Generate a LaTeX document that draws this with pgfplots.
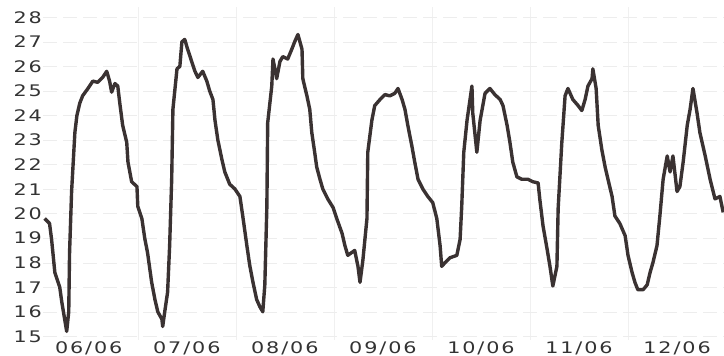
\documentclass[border=0pt]{standalone}
\usepackage{pgfplots}
\usepackage{pgfplotstable}
\usepackage{fontspec}
\pgfplotsset{compat=1.18}
\newfontfamily\tickfont[FakeStretch=1.3,LetterSpace=12]{DejaVu Sans}
\definecolor{linec}{RGB}{58,50,50}
\pgfplotstableread{
h v
1.2 19.8
2.4 19.6
2.9 18.95
3.7 17.6
4.9 17.0
5.4 16.4
6.1 15.7
6.6 15.2
7.1 16.0
7.3 18.4
7.8 20.9
8.6 23.3
9.1 24.0
9.8 24.5
10.5 24.8
11.8 25.1
13.0 25.4
14.2 25.35
15.4 25.55
16.4 25.8
17.1 25.4
17.6 24.95
18.4 25.3
19.1 25.2
19.6 24.5
20.3 23.6
21.3 22.9
21.6 22.1
22.5 21.3
23.8 21.1
24.0 20.3
25.0 19.8
25.7 19.0
26.4 18.4
27.4 17.2
28.2 16.5
28.9 16.0
29.9 15.7
30.1 15.4
30.6 16.0
31.3 16.8
31.8 18.7
32.3 21.4
32.6 24.25
33.6 25.9
34.3 26.0
34.8 27.0
35.5 27.1
36.2 26.7
37.2 26.2
38.0 25.8
38.7 25.55
39.9 25.8
40.9 25.4
41.6 25.0
42.4 24.65
42.9 23.8
43.6 23.0
44.6 22.2
45.3 21.7
46.5 21.2
47.8 21.0
49.0 20.7
49.7 19.9
50.7 18.7
51.4 17.9
52.2 17.2
53.1 16.5
53.9 16.2
54.6 16.0
55.1 17.1
55.6 20.3
55.8 23.7
56.8 25.2
57.1 26.3
58.0 25.5
58.8 26.2
59.5 26.4
60.7 26.3
61.7 26.7
62.4 27.0
63.2 27.3
64.2 26.7
64.4 25.5
65.4 24.8
66.1 24.25
66.6 23.3
67.3 22.5
67.8 21.9
68.6 21.4
69.3 21.0
70.5 20.6
71.8 20.25
72.7 19.8
74.0 19.2
74.7 18.7
75.4 18.3
77.1 18.5
77.9 17.85
78.4 17.2
79.1 18.1
80.1 19.8
80.3 22.5
81.3 23.8
82.0 24.4
83.3 24.65
84.5 24.85
85.7 24.8
86.9 24.9
87.7 25.1
88.7 24.65
89.4 24.25
90.1 23.6
91.1 22.75
91.8 22.1
92.6 21.4
93.8 21.0
95.0 20.7
96.2 20.45
97.2 19.8
98.0 18.7
98.4 17.85
99.2 18.0
100.4 18.2
102.1 18.3
102.9 18.95
103.3 20.3
103.8 22.5
104.6 23.8
105.8 25.2
106.0 24.1
107.0 22.5
107.8 23.8
109.0 24.9
110.2 25.1
111.4 24.85
112.7 24.65
113.4 24.4
114.4 23.6
115.1 22.9
115.8 22.1
116.8 21.5
118.0 21.4
119.5 21.4
120.7 21.3
122.0 21.25
122.4 20.6
123.2 19.5
124.2 18.55
124.9 17.85
125.6 17.05
126.6 17.85
126.9 20.2
127.8 22.9
128.6 24.8
129.3 25.1
130.5 24.65
131.8 24.4
132.7 24.2
133.5 24.65
134.2 25.2
135.2 25.5
135.4 25.9
136.2 25.1
136.7 23.6
137.6 22.6
138.4 21.9
139.1 21.4
140.1 20.7
140.8 19.9
142.0 19.6
143.3 19.1
144.0 18.3
145.0 17.6
145.7 17.2
146.4 16.9
147.7 16.9
148.7 17.1
149.4 17.6
150.1 18.0
151.1 18.7
151.8 19.9
152.6 21.4
153.6 22.35
154.3 21.7
155.0 22.35
156.0 20.9
156.7 21.1
157.5 22.1
158.5 23.6
159.2 24.25
159.9 25.1
160.9 24.1
161.6 23.3
162.9 22.35
164.1 21.4
165.3 20.6
166.5 20.7
167.3 20.05
}\temps
\begin{document}
\begin{tikzpicture}
\begin{axis}[
  scale only axis,
  width=681bp, height=332.5bp,
  xmin=0.8, xmax=167.5,
  ymin=14.85, ymax=28.4,
  axis line style={draw=none},
  major tick length=0pt, minor tick length=0pt,
  xtick={12,36,60,84,108,132,156},
  xticklabels={06/06,07/06,08/06,09/06,10/06,11/06,12/06},
  minor xtick={24,48,72,96,120,144},
  ytick={15,16,...,28},
  ymajorgrids, xminorgrids,
  major grid style={black!7, dash pattern=on 14bp off 6bp},
  minor grid style={black!6},
  tick label style={font=\tickfont\fontsize{16}{16}\selectfont, text=black!80},
  /pgf/number format/assume math mode=true,
  xticklabel style={inner sep=0pt, yshift=-1.5bp},
  yticklabel style={inner sep=0pt, xshift=-1bp},
  clip=false,
]
\addplot[linec, line width=3.4bp, line join=round] table[x=h, y=v] {\temps};
\end{axis}
\pgfresetboundingbox
\path (-43bp,-16bp) rectangle (681bp,340bp);
\end{tikzpicture}
\end{document}
